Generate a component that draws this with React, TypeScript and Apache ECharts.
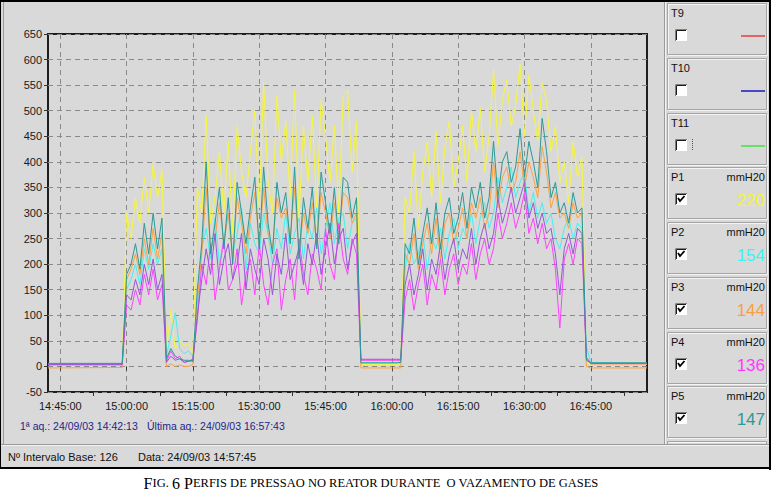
import React, { useEffect, useRef } from "react";
import * as echarts from "echarts";

const FONT = "'Liberation Sans', Arial, Helvetica, sans-serif";
const SERIF = "'Liberation Serif', 'Times New Roman', serif";

// ---- axis data ----
const xTickLabels = ["14:45:00", "15:00:00", "15:15:00", "15:30:00", "15:45:00", "16:00:00", "16:15:00", "16:30:00", "16:45:00"];
const xMinorTicks = ["14:52:30", "15:07:30", "15:22:30", "15:37:30", "15:52:30", "16:07:30", "16:22:30", "16:37:30", "16:52:30"];
const firstAcq = "14:42:13";
const lastAcq = "16:57:43";
const sampleStart = "14:59:00";
const sampleStepSec = 60;
const yMin = -50;
const yMax = 650;
const yStep = 50;

// ---- series values: [first acq, 14:59 .. 16:45 every minute, last acq] ----
const p1Yellow = [
  4,
  5,
  300, 250, 330, 280, 370, 300, 395, 330, 385,
  30, 110, 35, 50, 40, 45, 25,
  350, 300, 490, 280, 330, 420, 300, 440, 260, 470, 380, 330, 420, 500, 310, 555, 360, 300, 530, 400, 480, 330, 540, 290, 470, 360, 490, 310, 520, 450, 360, 470, 300, 530, 540, 380, 480,
  4, 4, 4, 4, 4, 4, 4, 4, 4,
  5, 330, 300, 420, 270, 380, 440, 330, 460, 320, 430, 480, 350, 400, 470, 360, 500, 420, 505, 380, 450, 580, 430, 520, 560, 470, 510, 590, 450, 570, 500, 440, 555, 520, 420, 470, 360, 400, 320, 440, 370, 410,
  10, 4,
  4,
];
const p2Cyan = [
  5,
  5,
  150, 170, 200, 160, 230, 190, 240, 200, 230,
  20, 60, 105, 35, 25, 30, 20,
  110, 230, 270, 210, 290, 200, 250, 300, 220, 260, 310, 190, 280, 240, 220, 300, 260, 200, 270, 230, 300, 220, 260, 290, 210, 280, 250, 310, 220, 270, 320, 240, 290, 300, 230, 280, 290,
  7, 7, 7, 7, 7, 7, 7, 7, 7,
  7, 190, 240, 200, 220, 260, 190, 250, 230, 270, 210, 260, 290, 230, 270, 250, 300, 240, 290, 320, 270, 300, 370, 320, 350, 390, 330, 360, 380, 300, 340, 290, 320, 280, 300, 250, 230, 270, 290, 250, 280, 270,
  40, 8,
  6,
];
const p3Orange = [
  -3,
  -2,
  170, 190, 220, 180, 250, 200, 270, 210, 260,
  0, 5, 0, 3, 0, 0, 4,
  130, 220, 350, 230, 250, 320, 240, 300, 210, 330, 280, 220, 290, 340, 240, 350, 260, 230, 330, 290, 310, 250, 350, 220, 300, 260, 320, 240, 340, 300, 250, 320, 250, 340, 330, 280, 300,
  -3, -3, -3, -3, -3, -3, -3, -3, -3,
  -3, 220, 200, 260, 190, 240, 280, 220, 290, 210, 280, 300, 240, 270, 310, 250, 320, 290, 330, 270, 300, 400, 310, 370, 390, 340, 360, 420, 350, 400, 370, 330, 430, 380, 310, 340, 290, 300, 270, 320, 290, 300,
  0, -3,
  -3,
];
const p4Magenta = [
  3,
  3,
  120, 110, 150, 120, 180, 140, 190, 130, 160,
  10, 30, 15, 20, 8, 10, 15,
  90, 200, 160, 240, 130, 190, 250, 150, 170, 230, 120, 180, 210, 140, 240, 160, 120, 200, 230, 110, 170, 210, 130, 250, 180, 140, 220, 190, 150, 270, 200, 170, 280, 210, 180, 250, 220,
  12, 12, 12, 12, 12, 12, 12, 12, 12,
  12, 130, 170, 110, 160, 200, 120, 180, 150, 210, 140, 190, 220, 160, 200, 180, 240, 170, 220, 250, 200, 230, 300, 250, 280, 320, 270, 300, 340, 260, 290, 240, 280, 230, 250, 190, 75, 210, 240, 200, 250, 240,
  15, 5,
  5,
];
const p5Teal = [
  6,
  6,
  180, 200, 240, 190, 280, 220, 300, 230, 290,
  15, 35, 20, 15, 12, 12, 10,
  150, 240, 400, 220, 280, 350, 230, 330, 200, 360, 300, 240, 310, 370, 230, 390, 280, 220, 360, 300, 340, 240, 390, 210, 330, 270, 350, 230, 380, 320, 260, 350, 240, 370, 360, 290, 330,
  7, 7, 7, 7, 7, 7, 7, 7, 7,
  8, 240, 220, 290, 200, 260, 310, 240, 320, 230, 300, 330, 260, 290, 340, 270, 350, 310, 360, 290, 330, 440, 330, 400, 420, 360, 390, 465, 370, 440, 400, 350, 485, 420, 330, 360, 300, 320, 280, 340, 300, 310,
  12, 7,
  7,
];
const p6Purple = [
  4,
  4,
  140, 130, 170, 140, 200, 160, 210, 150, 180,
  8, 20, 12, 15, 8, 10, 12,
  100, 170, 230, 180, 260, 160, 210, 240, 170, 200, 260, 150, 230, 190, 160, 250, 210, 140, 220, 180, 260, 170, 200, 230, 160, 240, 200, 260, 180, 230, 280, 200, 250, 270, 190, 240, 260,
  14, 14, 14, 14, 14, 14, 14, 14, 14,
  14, 160, 200, 140, 180, 230, 150, 210, 180, 240, 170, 220, 250, 190, 230, 210, 270, 200, 250, 280, 230, 260, 330, 280, 310, 350, 300, 330, 360, 290, 320, 270, 300, 260, 270, 220, 140, 230, 260, 220, 270, 260,
  18, 6,
  6,
];

// ---- side panel data ----
const panelNames = ["T9", "T10", "T11", "P1", "P2", "P3", "P4", "P5"];
const panelChecked = [false, false, false, true, true, true, true, true];
const panelUnits = ["", "", "", "mmH20", "mmH20", "mmH20", "mmH20", "mmH20"];
const panelReadings = ["", "", "", "220", "154", "144", "136", "147"];

const infoFirst = "1ª aq.: 24/09/03 14:42:13";
const infoLast = "Última aq.: 24/09/03 16:57:43";
const statusBase = "Nº Intervalo Base: 126";
const statusDate = "Data: 24/09/03 14:57:45";

// ---- styles ----
const panelColors = ["#e46464", "#4848c8", "#66e066", "#f4f430", "#38f4f4", "#f8a040", "#ff38ff", "#2a9a94"];
const seriesStyle = [
  { name: "P1", data: p1Yellow, color: "#f6f640" },
  { name: "P2", data: p2Cyan, color: "#44f0f0" },
  { name: "P3", data: p3Orange, color: "#ffa040" },
  { name: "P4", data: p4Magenta, color: "#ff40ff" },
  { name: "P6", data: p6Purple, color: "#9656d8" },
  { name: "P5", data: p5Teal, color: "#2a9a94" },
];

function toSec(s: string) {
  const [h, m, sec] = s.split(":").map(Number);
  return h * 3600 + m * 60 + sec;
}
function fmt(v: number) {
  const t = Math.round(v);
  const h = Math.floor(t / 3600);
  const m = Math.floor((t % 3600) / 60);
  const s = t % 60;
  const p = (n: number) => String(n).padStart(2, "0");
  return `${p(h)}:${p(m)}:${p(s)}`;
}

export default function App() {
  const ref = useRef<HTMLDivElement>(null);
  useEffect(() => {
    if (!ref.current) return;
    const chart = echarts.init(ref.current, undefined, { renderer: "svg" });
    const tMin = toSec(firstAcq);
    const tMax = toSec(lastAcq);
    const t0 = toSec(sampleStart);
    const mkData = (vals: number[]) =>
      vals.map((v, i) => {
        let t: number;
        if (i === 0) t = tMin;
        else if (i === vals.length - 1) t = tMax;
        else t = t0 + (i - 1) * sampleStepSec;
        return [t, v];
      });
    const major = xTickLabels.map(toSec);
    const minor = xMinorTicks.map(toSec).filter((v) => v > tMin && v < tMax);

    const g: any[] = [];
    const line = (x1: number, y1: number, x2: number, y2: number, stroke: string, w = 1) =>
      g.push({ type: "line", silent: true, shape: { x1, y1, x2, y2 }, style: { stroke, lineWidth: w } });
    const rect = (x: number, y: number, w: number, h: number, fill: string) =>
      g.push({ type: "rect", silent: true, shape: { x, y, width: w, height: h }, style: { fill } });
    const text = (x: number, y: number, t: string, o: any = {}) =>
      g.push({
        type: "text",
        silent: true,
        x,
        y,
        style: { text: t, fill: o.fill || "#111", font: o.font || `11px ${FONT}`, textAlign: o.align || "left", textVerticalAlign: "middle" },
      });

    // window frame
    rect(0, 0, 771, 2, "#000");
    rect(0, 0, 1, 469, "#000");
    rect(769, 0, 2, 470, "#000");
    rect(0, 467, 771, 2, "#000");
    line(3.5, 2, 3.5, 445, "#9a9a9a");
    line(664.5, 2, 664.5, 445, "#9a9a9a");
    line(665.5, 2, 665.5, 445, "#f2f2f2");
    line(1, 444.5, 769, 444.5, "#9a9a9a");
    line(1, 445.5, 769, 445.5, "#f2f2f2");

    // side panel boxes
    const bx = 667;
    const bw = 100;
    const pitch = 54.75;
    panelNames.forEach((name, k) => {
      const top = Math.round(3 + k * pitch);
      g.push({ type: "rect", silent: true, shape: { x: bx + 1.5, y: top + 1.5, width: bw - 1, height: 51 }, style: { fill: "none", stroke: "#f4f4f4" } });
      g.push({ type: "rect", silent: true, shape: { x: bx + 0.5, y: top + 0.5, width: bw - 1, height: 51 }, style: { fill: "none", stroke: "#a4a4a4" } });
      text(bx + 4, top + 10, name);
      if (panelUnits[k]) text(bx + 98, top + 10, panelUnits[k], { align: "right" });
      const cx = 675;
      const cy = top + 26;
      rect(cx, cy, 12, 12, "#ffffff");
      g.push({ type: "polyline", silent: true, shape: { points: [[cx + 0.5, cy + 12], [cx + 0.5, cy + 0.5], [cx + 12, cy + 0.5]] }, style: { stroke: "#808080", fill: "none" } });
      g.push({ type: "polyline", silent: true, shape: { points: [[cx + 1.5, cy + 11], [cx + 1.5, cy + 1.5], [cx + 11, cy + 1.5]] }, style: { stroke: "#1a1a1a", fill: "none" } });
      if (panelChecked[k]) {
        g.push({ type: "polyline", silent: true, shape: { points: [[cx + 3, cy + 5], [cx + 5, cy + 8], [cx + 9.5, cy + 3]] }, style: { stroke: "#000", fill: "none", lineWidth: 1.8 } });
      }
      if (name === "T11") {
        g.push({ type: "line", silent: true, shape: { x1: cx + 17.5, y1: cy, x2: cx + 17.5, y2: cy + 12 }, style: { stroke: "#555", lineDash: [1, 1] } });
      }
      if (panelReadings[k]) {
        text(bx + 98, top + 33, panelReadings[k], { align: "right", fill: panelColors[k], font: `17px ${FONT}` });
      } else {
        line(741, top + 33, 765, top + 33, panelColors[k], 2);
      }
    });
    line(bx + 0.5, 441.5, bx + bw - 0.5, 441.5, "#a4a4a4");
    line(bx + 1.5, 442.5, bx + bw - 0.5, 442.5, "#f4f4f4");
    line(bx + 0.5, 441.5, bx + 0.5, 444, "#a4a4a4");
    line(bx + bw - 0.5, 441.5, bx + bw - 0.5, 444, "#a4a4a4");

    // info lines
    text(20, 426, infoFirst, { fill: "#24248c", font: `10.5px ${FONT}` });
    text(147, 426, infoLast, { fill: "#24248c", font: `10.5px ${FONT}` });
    text(8, 457, statusBase);
    text(138, 457, statusDate);

    // caption in small caps
    g.push({
      type: "text",
      silent: true,
      x: 371,
      y: 483,
      style: {
        text: "{b|F}{s|IG. }{b|6 P}{s|ERFIS DE PRESSAO NO REATOR DURANTE  O VAZAMENTO DE GASES}",
        textAlign: "center",
        textVerticalAlign: "middle",
        fill: "#000",
        rich: {
          b: { fontFamily: SERIF, fontSize: 16, fill: "#000", color: "#000" },
          s: { fontFamily: SERIF, fontSize: 12.5, fill: "#000", color: "#000" },
        },
      },
    });

    const option: any = {
      animation: false,
      grid: { left: 48, top: 34, width: 599, height: 358, show: true, borderColor: "#1e1e1e", borderWidth: 2, backgroundColor: "transparent" },
      xAxis: [
        {
          type: "value",
          min: tMin,
          max: tMax,
          position: "bottom",
          axisLine: { show: false },
          axisTick: { show: true, customValues: major, length: 4, lineStyle: { color: "#333" } },
          axisLabel: { customValues: major, formatter: (v: number) => fmt(v), color: "#1a1a1a", fontSize: 11, fontFamily: FONT, margin: 8 },
          splitLine: { show: true, lineStyle: { color: "#8a8a8a", type: [5, 4], width: 1 } },
        },
        {
          type: "value",
          min: tMin,
          max: tMax,
          position: "bottom",
          axisLine: { show: false },
          axisLabel: { show: false },
          splitLine: { show: false },
          axisTick: { show: true, customValues: minor, length: 4, lineStyle: { color: "#333" } },
        },
      ],
      yAxis: {
        type: "value",
        min: yMin,
        max: yMax,
        interval: yStep,
        axisLine: { show: false },
        axisTick: { show: true, length: 4, lineStyle: { color: "#333" } },
        axisLabel: { color: "#1a1a1a", fontSize: 11, fontFamily: FONT, margin: 6 },
        splitLine: { show: true, lineStyle: { color: "#8a8a8a", type: [5, 4], width: 1 } },
      },
      series: seriesStyle.map((s) => ({
        name: s.name,
        type: "line",
        xAxisIndex: 0,
        data: mkData(s.data),
        symbol: "none",
        showSymbol: false,
        lineStyle: { color: s.color, width: 1 },
        itemStyle: { color: s.color },
        z: 3,
      })),
      graphic: { elements: g },
    };
    chart.setOption(option);
    return () => chart.dispose();
  }, []);
  return (
    <div
      ref={ref}
      style={{
        position: "absolute",
        left: 0,
        top: 0,
        width: 771,
        height: 494,
        background: "linear-gradient(to bottom, #d9d9d9 0px, #d9d9d9 469px, #ffffff 469px)",
      }}
    />
  );
}
